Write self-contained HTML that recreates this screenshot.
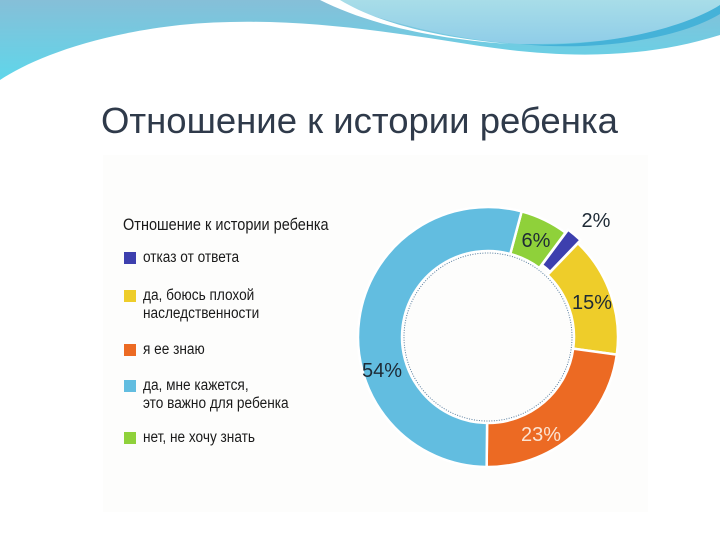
<!DOCTYPE html>
<html><head><meta charset="utf-8">
<style>
body{margin:0;width:720px;height:540px;overflow:hidden;background:#fff;position:relative;font-family:"Liberation Sans",sans-serif}
.t{position:absolute;white-space:nowrap;color:#1a1a1a;font-size:15.5px;transform-origin:0 0;transform:scaleX(0.88);line-height:18px}
.sw{position:absolute;width:12px;height:12px}
</style></head><body>
<svg width="720" height="110" style="position:absolute;left:0;top:0">
<defs>
<linearGradient id="g1" x1="0" y1="0" x2="0" y2="1"><stop offset="0" stop-color="#86bfd8"/><stop offset="1" stop-color="#5fd6ea"/></linearGradient>
<linearGradient id="g2" x1="0" y1="0" x2="0" y2="1"><stop offset="0" stop-color="#a8dde8"/><stop offset="1" stop-color="#8fcde8"/></linearGradient>
</defs>
<path d="M0 0 H720 V35 C640 60 560 58 480 46 C380 30 280 15 180 25 C90 35 30 60 0 80 Z" fill="url(#g1)"/>
<path d="M325 0 H720 V8 C670 35 600 45 520 44 C450 40 380 20 325 0 Z" fill="url(#g2)"/>
<path d="M320 0 C360 20 420 38 510 44 C420 36 370 18 340 0 Z" fill="#fff"/>
<path d="M520 44 C600 48 680 30 720 5 V14 C680 38 600 52 520 44 Z" fill="#45b2d8"/>
</svg>
<div style="position:absolute;left:101px;top:100px;font-size:36.5px;color:#2f3a4a;white-space:nowrap">Отношение к истории ребенка</div>
<div style="position:absolute;left:103px;top:155px;width:545px;height:357px;background:#fdfdfc"></div>
<div class="t" style="left:123px;top:216px;font-size:16.5px">Отношение к истории ребенка</div>
<div id="legend"></div>
<svg id="donut" width="720" height="540" style="position:absolute;left:0;top:0"></svg>
<script>
const categories=["нет, не хочу знать","отказ от ответа","да, боюсь плохой наследственности","я ее знаю","да, мне кажется, это важно для ребенка"];
const values=[6,2,15,23,54];
const labels=["6%","2%","15%","23%","54%"];
const colors=["#8fd13a","#3d3fae","#eecd2a","#ec6a23","#62bde0"];
const legendOrder=[1,2,3,4,0];
const legendLines=[["отказ от ответа"],["да, боюсь плохой","наследственности"],["я ее знаю"],["да, мне кажется,","это важно для ребенка"],["нет, не хочу знать"]];
const legendY=[249,287,341,377,429];
const NS="http://www.w3.org/2000/svg";
const svg=document.getElementById('donut');
const cx=488,cy=337,R=130,r=86,start=15;
const total=values.reduce((a,b)=>a+b,0);
function pt(a,rad){const t=(a-90)*Math.PI/180;return [cx+rad*Math.cos(t),cy+rad*Math.sin(t)];}
let a=start;
const labPos=[[536,247],[596,227],[592,309],[541,441],[382,377]];
values.forEach((v,i)=>{
  const sw=v/total*360;const a0=a,a1=a+sw;a=a1;
  let ro=R,ri=r,off=0;
  if(i===1){off=4;}
  const mid=(a0+a1)/2, t=(mid-90)*Math.PI/180, dx=off*Math.cos(t), dy=off*Math.sin(t);
  const p1=pt(a0,ro),p2=pt(a1,ro),p3=pt(a1,ri),p4=pt(a0,ri),lg=sw>180?1:0;
  const p=document.createElementNS(NS,'path');
  p.setAttribute('d',`M${p1[0]+dx} ${p1[1]+dy} A${ro} ${ro} 0 ${lg} 1 ${p2[0]+dx} ${p2[1]+dy} L${p3[0]+dx} ${p3[1]+dy} A${ri} ${ri} 0 ${lg} 0 ${p4[0]+dx} ${p4[1]+dy}Z`);
  p.setAttribute('fill',colors[i]);p.setAttribute('stroke','#fff');p.setAttribute('stroke-width','2.5');
  
  
  svg.appendChild(p);
  const tx=document.createElementNS(NS,'text');
  const lp=labPos[i];
  tx.setAttribute('x',lp[0]);tx.setAttribute('y',lp[1]);tx.setAttribute('text-anchor','middle');
  tx.setAttribute('font-family','Liberation Sans, sans-serif');tx.setAttribute('font-size','20');
  tx.setAttribute('fill',i===3?'#fbe3d2':'#1e2a35');
  tx.textContent=labels[i];
  
  
  svg.appendChild(tx);
});
const c=document.createElementNS(NS,'circle');
c.setAttribute('cx',cx);c.setAttribute('cy',cy);c.setAttribute('r',r-2);c.setAttribute('fill','none');c.setAttribute('stroke','#5a7fa0');c.setAttribute('stroke-width','1');c.setAttribute('stroke-dasharray','1 1.5');


svg.appendChild(c);
const lg=document.getElementById('legend');
legendOrder.forEach((ci,k)=>{
  const s=document.createElement('div');s.className='sw';s.style.left='124px';s.style.top=(legendY[k]+3)+'px';s.style.background=colors[ci];
  
  
  lg.appendChild(s);
  const t=document.createElement('div');t.className='t';t.style.left='143px';t.style.top=legendY[k]+'px';
  t.innerHTML=legendLines[k].join('<br>');
  
  
  lg.appendChild(t);
});
</script>
</body></html>
